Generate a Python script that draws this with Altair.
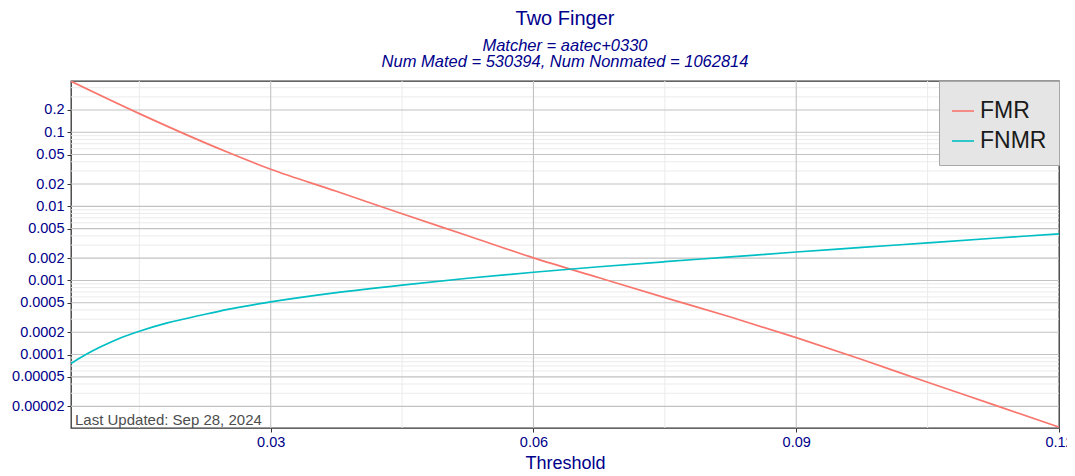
import altair as alt
import pandas as pd

# ---- data ----
fmr_threshold = [0.0072, 0.015, 0.0251, 0.03, 0.0375, 0.045, 0.0525, 0.06, 0.0675,
                 0.075, 0.0825, 0.09, 0.0975, 0.105, 0.1125, 0.12]
fmr = [0.488, 0.1786, 0.0537, 0.0317, 0.0160, 0.00794, 0.00401, 0.00202, 0.001087,
       0.000587, 0.000321, 0.000169, 0.0000857, 0.0000422, 0.0000211, 0.0000105]

fnmr_threshold = [0.0072, 0.0091, 0.0106, 0.0125, 0.015, 0.0182, 0.022, 0.0251, 0.03,
                  0.0375, 0.045, 0.0525, 0.06, 0.0675, 0.075, 0.0825, 0.09, 0.0975,
                  0.105, 0.1125, 0.12]
fnmr = [0.0000757, 0.000103, 0.000127, 0.000161, 0.000206, 0.000267, 0.000339, 0.000408,
        0.000513, 0.000684, 0.000867, 0.00107, 0.00129, 0.00153, 0.00179, 0.00208,
        0.00242, 0.00279, 0.00322, 0.00371, 0.00426]

series_names = ["FMR", "FNMR"]
series_colors = ["#F8766D", "#00BFC4"]

x_domain = [0.0072, 0.12]
y_domain = [0.0000102, 0.492]
x_ticks = [0.03, 0.06, 0.09, 0.12]
x_major_grid = [0.03, 0.06, 0.09]
x_minor_grid = [0.015, 0.045, 0.075, 0.105]
y_ticks = [0.2, 0.1, 0.05, 0.02, 0.01, 0.005, 0.002, 0.001, 0.0005, 0.0002,
           0.0001, 0.00005, 0.00002]
y_minor_grid = [0.4, 0.3, 0.09, 0.08, 0.07, 0.06, 0.04, 0.03,
                0.009, 0.008, 0.007, 0.006, 0.004, 0.003,
                0.0009, 0.0008, 0.0007, 0.0006, 0.0004, 0.0003,
                0.00009, 0.00008, 0.00007, 0.00006, 0.00004, 0.00003]
note_text = "Last Updated: Sep 28, 2024"

NAVY = "#00008B"
FONT = "Liberation Sans"

df = pd.concat([
    pd.DataFrame({"Threshold": fmr_threshold, "value": fmr, "series": "FMR"}),
    pd.DataFrame({"Threshold": fnmr_threshold, "value": fnmr, "series": "FNMR"}),
], ignore_index=True)

xs = alt.Scale(domain=x_domain, nice=False, zero=False)
ys = alt.Scale(type="log", domain=y_domain, nice=False)
x_axis = alt.Axis(values=x_ticks, format=".2f", title="Threshold", grid=False,
                  labelFlush=False, labelOverlap=False)
y_axis = alt.Axis(values=y_ticks, format="~g", title=None, grid=False, labelOverlap=False)


def X():
    return alt.X("Threshold:Q", scale=xs, axis=x_axis)


def Y():
    return alt.Y("value:Q", scale=ys, axis=y_axis)


minor_x = alt.Chart(pd.DataFrame({"Threshold": x_minor_grid})).mark_rule(
    color="#ebebeb", strokeWidth=1).encode(x=X())
minor_y = alt.Chart(pd.DataFrame({"value": y_minor_grid})).mark_rule(
    color="#ebebeb", strokeWidth=1).encode(y=Y())
major_x = alt.Chart(pd.DataFrame({"Threshold": x_major_grid})).mark_rule(
    color="#c2c2c2", strokeWidth=1.1).encode(x=X())
major_y = alt.Chart(pd.DataFrame({"value": y_ticks})).mark_rule(
    color="#c2c2c2", strokeWidth=1.1).encode(y=Y())

lines = alt.Chart(df).mark_line(strokeWidth=1.7, interpolate="monotone", clip=True).encode(
    x=X(),
    y=Y(),
    color=alt.Color("series:N",
                    scale=alt.Scale(domain=series_names, range=series_colors),
                    legend=alt.Legend(orient="top-right", offset=0, title=" ",
                                      titleFontSize=1, titlePadding=5,
                                      fillColor="#e5e5e5", strokeColor="#a8a8a8",
                                      padding=12, labelFontSize=23, labelColor="#1a1a1a",
                                      labelFont=FONT, symbolType="stroke", symbolSize=484,
                                      symbolStrokeWidth=1.6, labelOffset=5, rowPadding=6)),
)

note = alt.Chart(pd.DataFrame({"Threshold": [x_domain[0]], "value": [y_domain[0]],
                               "label": [note_text]})).mark_text(
    align="left", baseline="alphabetic", dx=4, dy=-3, fontSize=15,
    color="#4d4d4d", font=FONT).encode(x=X(), y=Y(), text="label:N")

chart = alt.layer(minor_x, minor_y, major_x, major_y, lines, note).properties(
    width=988, height=347,
    autosize=alt.AutoSizeParams(type="none"),
    padding={"left": 63, "top": 73, "right": 8, "bottom": 46},
    title=alt.TitleParams(
        text="Two Finger",
        subtitle=["Matcher = aatec+0330", "Num Mated = 530394, Num Nonmated = 1062814"],
        fontSize=20, fontWeight="normal", color=NAVY, font=FONT,
        subtitleFontSize=16.5, subtitleFontStyle="italic", subtitleColor=NAVY,
        subtitleFont=FONT, subtitleLineHeight=16, subtitlePadding=9,
        anchor="middle", offset=10),
).configure(font=FONT).configure_view(
    stroke="#333333", strokeWidth=1.3
).configure_axis(
    labelFont=FONT, labelFontSize=14.5, labelColor=NAVY,
    titleFont=FONT, titleFontSize=18, titleColor=NAVY, titleFontWeight="normal",
    tickColor="#333333", tickSize=4, domain=False, labelPadding=3, titlePadding=6,
)

chart.save("out.html", embed_options={"renderer": "svg", "actions": False})
